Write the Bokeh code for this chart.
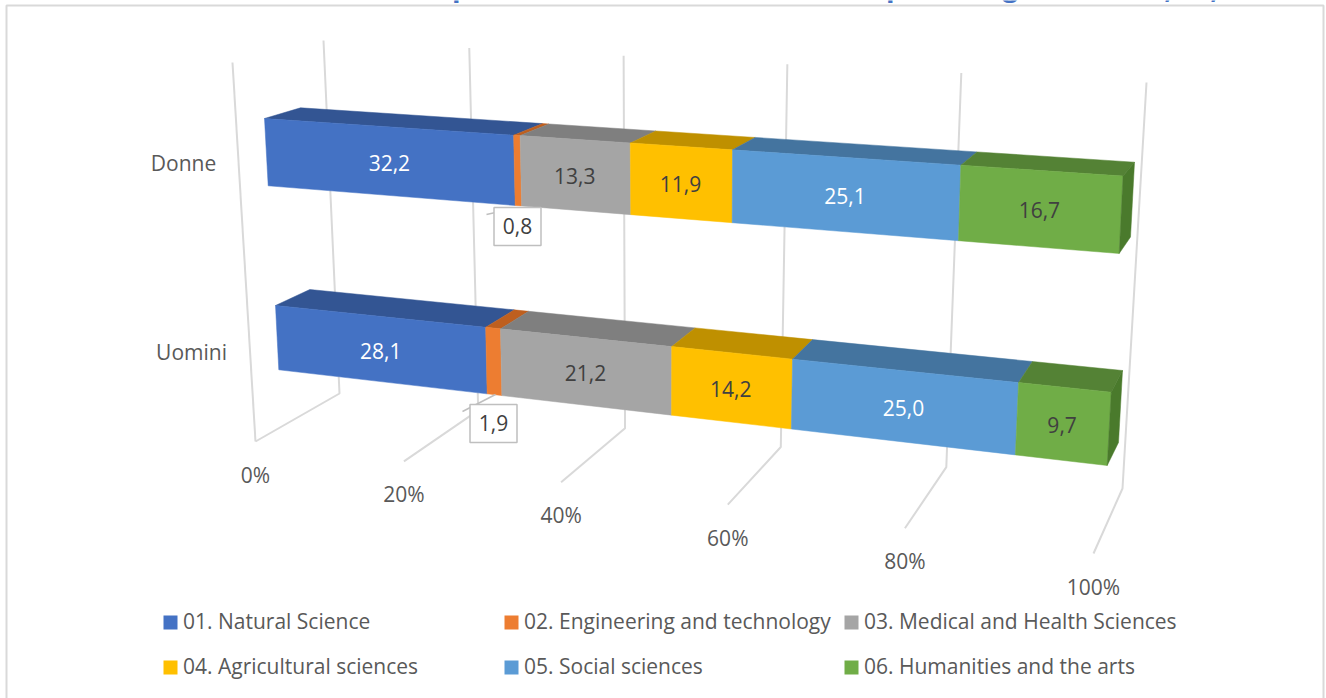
from bokeh.plotting import figure
from bokeh.models import ColumnDataSource, Range1d
from bokeh.core.properties import value
from bokeh.embed import file_html
from bokeh.resources import INLINE

categories = ["Donne", "Uomini"]
series = ["01. Natural Science", "02. Engineering and technology", "03. Medical and Health Sciences",
          "04. Agricultural sciences", "05. Social sciences", "06. Humanities and the arts"]
donne = [32.2, 0.8, 13.3, 11.9, 25.1, 16.7]
uomini = [28.1, 1.9, 21.2, 14.2, 25.0, 9.7]
ticks = [0, 20, 40, 60, 80, 100]
tick_labels = ["0%", "20%", "40%", "60%", "80%", "100%"]
front_colors = ["#4472C4", "#ED7D31", "#A5A5A5", "#FFC000", "#5B9BD5", "#70AD47"]
top_colors = ["#335593", "#BE5F1F", "#7F7F7F", "#BF9000", "#44749F", "#548235"]
label_colors = ["#FFFFFF", "#404040", "#404040", "#404040", "#FFFFFF", "#404040"]

FONT = "Open Sans"
TXT = "#595959"
C = -0.139  # perspective of the 3D value axis


def proj(line, t):
    (x0, y0), (x1, y1) = line
    d = 1 + C * t
    return ((x0 + (x1 * (1 + C) - x0) * t) / d, (y0 + (y1 * (1 + C) - y0) * t) / d)


# Perspective frame of the 3D scene, in reference pixels
wall_top = ((323, 40), (1146, 82))
wall_bottom = ((339, 393), (1122, 488))
floor_front = ((255, 441), (1093, 553))
side_wall = ((232, 62), (255, 441))
bars = {
    "Donne": dict(ft=((264, 118), (1122.5, 175.5)), fb=((267.7, 185.3), (1118.7, 253)),
                  bt=((300, 107.3), (1134, 161.7)), bb=((304, 175), (1130, 236.5)), values=donne),
    "Uomini": dict(ft=((275, 305), (1110.7, 391.7)), fb=((278.3, 369.3), (1106.7, 465)),
                   bt=((309.3, 289), (1122, 370)), bb=((313, 353), (1118, 442)), values=uomini),
}

p = figure(width=1326, height=698, output_backend="svg", toolbar_location=None,
           x_range=Range1d(0, 1326), y_range=Range1d(698, 0),
           min_border=0, outline_line_color=None, margin=(0, 0, 0, 0))
p.axis.visible = False
p.grid.visible = False
p.xaxis.visible = False
p.yaxis.visible = False
p.background_fill_color = "#FFFFFF"


def label(x, y, s, color=TXT, size=21, align="center", baseline="middle", style="normal"):
    p.text(x=[x], y=[y], text=[s], text_color=color, text_font=value(FONT), text_font_size=f"{size}px",
           text_align=align, text_baseline=baseline, text_font_style=style)


# Chart frame (only top and sides are inside the crop)
p.line([6, 6, 1323, 1323], [698, 5, 5, 698], line_color="#D9D9D9", line_width=2)

# Clipped title: only the descenders are visible
for x, s in [(451.5, "p"), (885.5, "p"), (1010, "g"), (1168, ","), (1214, ",")]:
    label(x, -16 if s != "," else -13, s, color="#4472C4", size=28, align="left" if s == "p" else "center",
          baseline="alphabetic", style="bold")

# Gridlines
GRID = "#D9D9D9"
x0, y0 = proj(side_wall, 0), proj(side_wall, 1)
p.line([x0[0], y0[0]], [x0[1], y0[1]], line_color=GRID, line_width=2)
for tk, tl in zip(ticks, tick_labels):
    t = tk / 100
    a, b, c = proj(wall_top, t), proj(wall_bottom, t), proj(floor_front, t)
    p.line([a[0], b[0], c[0]], [a[1], b[1], c[1]], line_color=GRID, line_width=2)
    label(c[0], c[1] + 33, tl)

# 3D bars
xs, ys, cols = [], [], []
labels = []
for name in categories:
    b = bars[name]
    total = sum(b["values"])
    cum = 0.0
    for v, fc, tc, lc in zip(b["values"], front_colors, top_colors, label_colors):
        t0, t1 = cum / total, (cum + v) / total
        cum += v
        q = [proj(b["bt"], t0), proj(b["bt"], t1), proj(b["ft"], t1), proj(b["ft"], t0)]
        xs.append([i[0] for i in q]); ys.append([i[1] for i in q]); cols.append(tc)
        q = [proj(b["ft"], t0), proj(b["ft"], t1), proj(b["fb"], t1), proj(b["fb"], t0)]
        xs.append([i[0] for i in q]); ys.append([i[1] for i in q]); cols.append(fc)
        labels.append((sum(i[0] for i in q) / 4, sum(i[1] for i in q) / 4, v, lc))
    q = [proj(b["ft"], 1), proj(b["bt"], 1), proj(b["bb"], 1), proj(b["fb"], 1)]
    xs.append([i[0] for i in q]); ys.append([i[1] for i in q]); cols.append("#4A7A2C")
p.patches(xs="xs", ys="ys", fill_color="cols", line_color="cols", line_width=0.5,
          source=ColumnDataSource(dict(xs=xs, ys=ys, cols=cols)))

# Data labels; the two thin segments get boxed callouts
callouts = {0.8: (517, 226, (486, 214), (517, 207)), 1.9: (493, 423, (462, 411), (495, 394))}
for x, y, v, lc in labels:
    s = f"{v:.1f}".replace(".", ",")
    if v in callouts:
        cx, cy, l0, l1 = callouts[v]
        p.line([l0[0], l1[0]], [l0[1], l1[1]], line_color="#BFBFBF", line_width=1.5)
        p.rect(x=[cx], y=[cy], width=47, height=38, fill_color="#FFFFFF", line_color="#BFBFBF", line_width=1.5)
        label(cx, cy - 1, s, color="#404040")
    else:
        label(x - 1, y + 1.5, s, color=lc)

# Category labels
for name, x, y in zip(categories, [183, 191], [162, 351]):
    label(x, y, name)

# Legend
for i, (s, col) in enumerate(zip(series, front_colors)):
    x = [163, 504, 844][i % 3]
    y = [622, 667][i // 3]
    p.rect(x=[x + 7], y=[y], width=14, height=14, fill_color=col, line_color=None)
    label(x + 19.5, y - 1.5, s, align="left")

open("out.html", "w").write(file_html(p, INLINE))
